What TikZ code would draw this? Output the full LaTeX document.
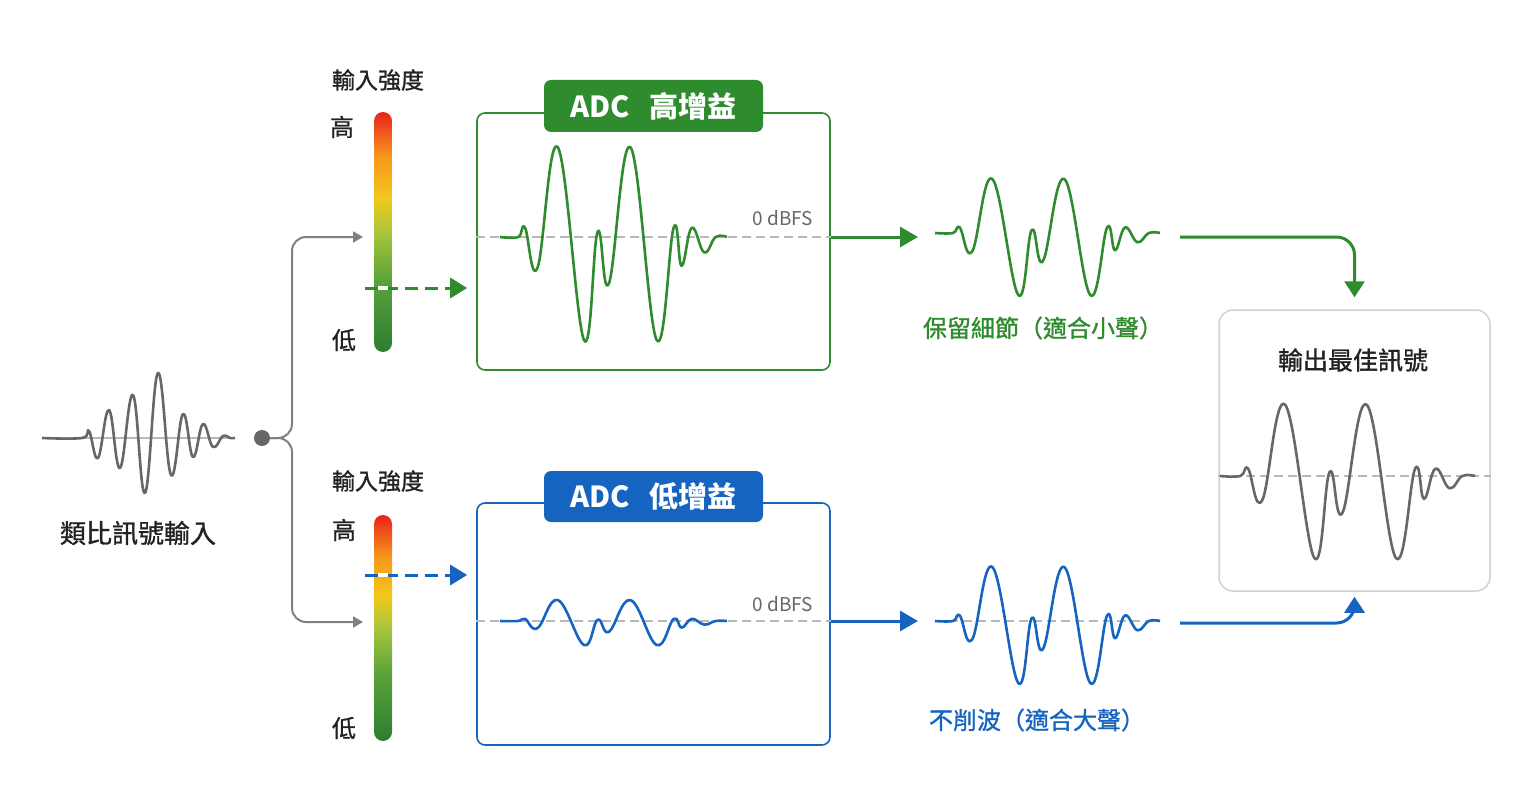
\documentclass[tikz,border=0pt]{standalone}
\usepackage{fontspec}
\newfontfamily\cjk{Noto Sans CJK TC}
\newfontfamily\cjkmed[FakeBold=1.2]{Noto Sans CJK TC}
\definecolor{adcgreen}{HTML}{2E8B2E}
\definecolor{adcblue}{HTML}{1565C0}
\definecolor{wavegray}{HTML}{676767}
\definecolor{linkgray}{HTML}{808080}
\definecolor{zerogray}{HTML}{B8B8B8}
\definecolor{inkblack}{HTML}{222222}
\definecolor{lvred}{HTML}{E8221B}
\definecolor{lvorange}{HTML}{F7941D}
\definecolor{lvyellow}{HTML}{F2C81A}
\definecolor{lvlime}{HTML}{A8C63C}
\definecolor{lvgreen}{HTML}{5AA33A}
\definecolor{lvdkgreen}{HTML}{2E7D32}
\usetikzlibrary{arrows.meta,positioning}

\pgfdeclareverticalshading{meterfade}{100bp}{color(0bp)=(lvdkgreen); color(25bp)=(lvdkgreen);
  color(40bp)=(lvgreen); color(50bp)=(lvlime); color(57bp)=(lvyellow); color(66bp)=(lvorange);
  color(75bp)=(lvred); color(100bp)=(lvred)}

\tikzset{
  burst/.pic={
    \draw[line width=2.6pt, line join=round]
      plot[smooth, tension=0.7] coordinates {(0,0) (0.08,0) (0.11,-0.09) (0.165,0.3) (0.255,-0.87)
        (0.37,1) (0.43,-0.05) (0.48,0.45) (0.575,-0.87) (0.69,1) (0.765,-0.09) (0.8,0.28)
        (0.845,-0.09) (0.9,0.15) (0.95,0) (1,0)};
  }
}

\begin{document}
\begin{tikzpicture}[
    x=1pt, y=-1pt,
    every node/.style={font=\cjk},
    txt/.style={font=\cjkmed\fontsize{24}{28}\selectfont, text=inkblack, inner sep=0pt},
    adcbox/.style={draw, line width=1.6pt, rounded corners=8pt, fill=white,
                   minimum width=353pt, inner sep=0pt},
    tab/.style={rounded corners=7pt, minimum width=219pt, minimum height=52pt, inner sep=0pt,
                text=white, font=\cjk\bfseries\fontsize{29}{32}\selectfont},
    meter/.style={shade, shading=meterfade, rounded corners=9pt, minimum width=18pt, inner sep=0pt},
    levelmark/.style={fill=white, minimum width=10pt, minimum height=4pt, inner sep=0pt},
    dot/.style={circle, fill=wavegray, minimum size=16pt, inner sep=0pt},
    zeroline/.style={zerogray, line width=1.3pt, dash pattern=on 9pt off 5pt},
    branch/.style={linkgray, line width=2pt, rounded corners=14pt, -{Triangle[length=10pt,width=11pt]}},
    levelarrow/.style={line width=3pt, dash pattern=on 13pt off 7pt, -{Triangle[length=17pt,width=20pt]}},
    flow/.style={line width=3pt, -{Triangle[length=18pt,width=20pt]}},
    merge/.style={line width=3pt, rounded corners=18pt, -{Triangle[length=16pt,width=20pt]}}
]
\useasboundingbox (0,0) rectangle (1536,797);

% ── Analog input ──
\draw[zerogray, line width=1.3pt] (42,438) -- (235,438);
\draw[wavegray, line width=2.6pt, line join=round]
  plot[smooth, tension=0.7] coordinates {(42,438) (82,438) (89,431) (98,458) (109,410) (120,468)
    (133,395) (145,493) (158,373) (171,475) (183,414) (193,457) (203,424) (213,447) (223,436)
    (230,438) (235,438)};
\node[txt, font=\cjkmed\fontsize{26}{30}\selectfont] (lblin) at (138,533) {類比訊號輸入};
\node[dot] (split) at (262,438) {};

% ── Level meters ──
\node[meter, minimum height=240pt] (barhi) at (383,232) {};
\node[meter, minimum height=226pt] (barlo) at (383,628) {};
\node[txt, font=\cjkmed\fontsize{23}{27}\selectfont] (meterhi) at (378,80) {輸入強度};
\node[txt] (tophi) at (342,127) {高};
\node[txt] (bothi) at (344,340) {低};
\node[txt, font=\cjkmed\fontsize{23}{27}\selectfont] (meterlo) at (378,481) {輸入強度};
\node[txt] (toplo) at (344,530) {高};
\node[txt] (botlo) at (344,728) {低};

% ── ADC boxes ──
\node[adcbox, draw=adcgreen, minimum height=257pt] (adchi) at (653.5,241.5) {};
\node[tab, fill=adcgreen] (tabhi) at (653.5,106) {ADC\hspace{20pt}高增益};
\node[adcbox, draw=adcblue, minimum height=242pt] (adclo) at (653.5,624) {};
\node[tab, fill=adcblue, minimum height=51pt] (tablo) at (653.5,496.5) {ADC\hspace{20pt}低增益};

\coordinate (zhi) at (500,237);
\coordinate (zlo) at (500,621);
\draw[zeroline] (adchi.west |- zhi) -- (adchi.east |- zhi);
\draw[zeroline] (adclo.west |- zlo) -- (adclo.east |- zlo);
\node[txt, font=\cjk\fontsize{19}{22}\selectfont, text=wavegray] (dbhi) at (783,218) {0 dBFS};
\node[txt, font=\cjk\fontsize{19}{22}\selectfont, text=wavegray] (dblo) at (783,604) {0 dBFS};
\pic[adcgreen, xscale=227, yscale=103] at (zhi) {burst};
\pic[adcblue, xscale=227, yscale=24] at (zlo) {burst};

% ── Split into both paths ──
\coordinate (trunk) at (292,438);
\coordinate (feedhi) at (363,237);
\coordinate (feedlo) at (363,622);
\draw[branch] (split) -- (trunk) |- (feedhi);
\draw[branch] (split) -- (trunk) |- (feedlo);

% ── Level arrows ──
\coordinate (lvlhi) at (383,288);
\coordinate (lvllo) at (383,575);
\draw[levelarrow, adcgreen] ([xshift=-18pt]lvlhi) -- ([xshift=-9pt]lvlhi -| adchi.west);
\draw[levelarrow, adcblue] ([xshift=-18pt]lvllo) -- ([xshift=-9pt]lvllo -| adclo.west);
\node[levelmark] (markhi) at (lvlhi) {};
\node[levelmark] (marklo) at (lvllo) {};

% ── Digitised outputs ──
\coordinate (outhi) at (935,233);
\coordinate (outlo) at (935,621);
\draw[flow, adcgreen] (adchi.east |- zhi) -- ([xshift=-17pt]outhi |- zhi);
\draw[flow, adcblue] (adclo.east |- zlo) -- ([xshift=-17pt]outlo |- zlo);
\pic[adcgreen, xscale=225, yscale=62] at (outhi) {burst};
\draw[zeroline] (outlo) -- ++(225,0);
\pic[adcblue, xscale=225, yscale=62] at (outlo) {burst};
\node[txt, text=adcgreen] (notehi) at (1043,328) {保留細節（適合小聲）};
\node[txt, text=adcblue] (notelo) at (1037,720) {不削波（適合大聲）};

% ── Best output ──
\node[draw=gray!35, line width=1.5pt, rounded corners=14pt, fill=white, minimum width=271pt,
      minimum height=281pt, inner sep=0pt] (outbox) at (1354.5,450.5) {};
\node[txt, font=\cjkmed\fontsize{25}{29}\selectfont] (outtitle) at (1353,360) {輸出最佳訊號};
\coordinate (zout) at (1220,476);
\draw[zeroline] (outbox.west |- zout) -- (outbox.east |- zout);
\pic[wavegray, xscale=255, yscale=82] at (zout) {burst};

\coordinate (endhi) at (1180,237);
\coordinate (endlo) at (1180,623);
\draw[merge, adcgreen] (endhi) -- (endhi -| outbox.north) -- ([yshift=12pt]outbox.north);
\draw[merge, adcblue] (endlo) -- (endlo -| outbox.south) -- ([yshift=-5pt]outbox.south);

\end{tikzpicture}
\end{document}
